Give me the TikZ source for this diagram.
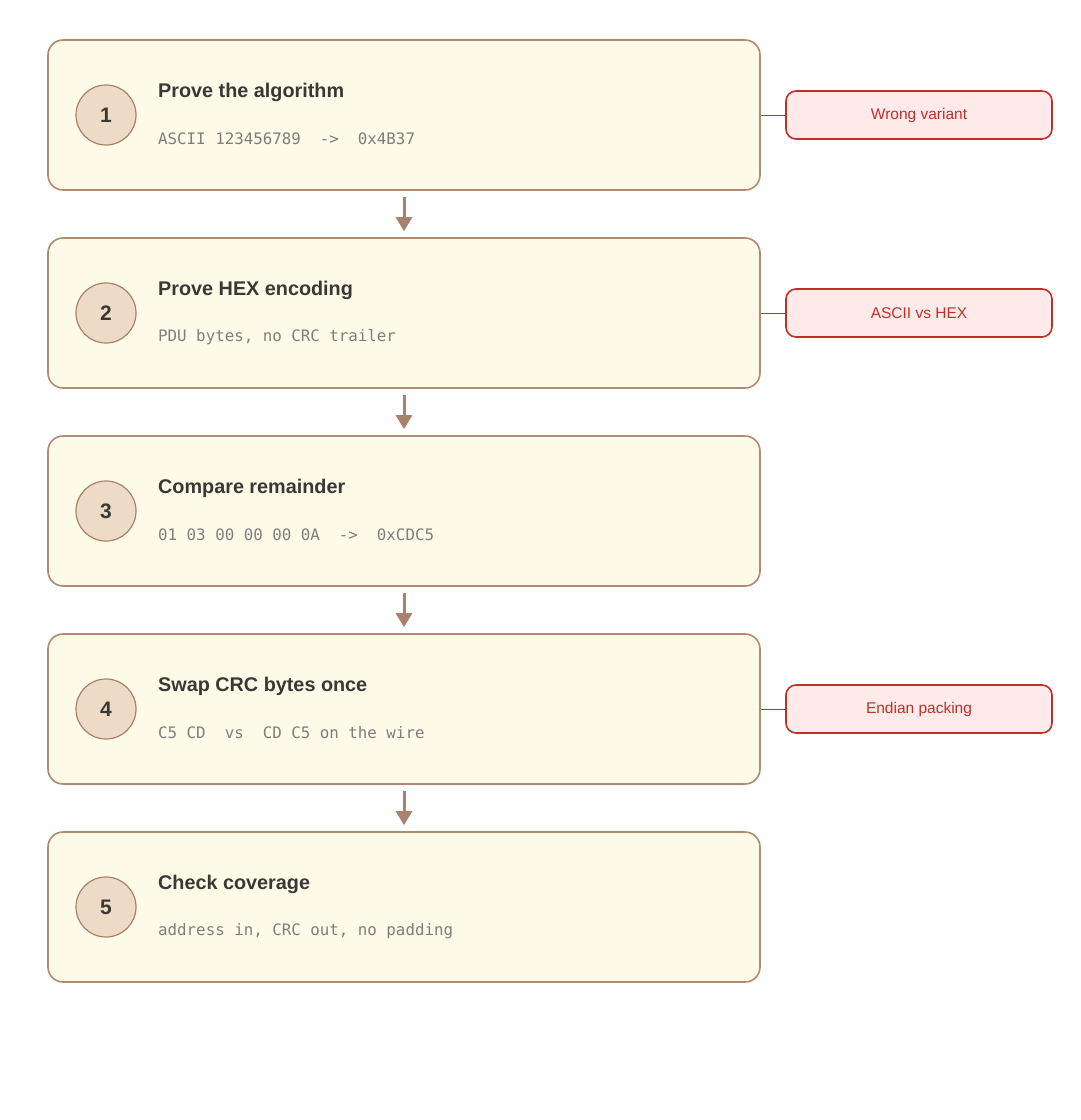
\documentclass[tikz,border=0pt]{standalone}
\usepackage{fontspec}
\setmainfont{Liberation Sans}
\setmonofont{DejaVu Sans Mono}
\usetikzlibrary{arrows.meta}
\definecolor{boxfill}{HTML}{FEFAE8}
\definecolor{boxdraw}{HTML}{B08B72}
\definecolor{circfill}{HTML}{EDDBC5}
\definecolor{circdraw}{HTML}{A8816A}
\definecolor{titlecol}{HTML}{3A3835}
\definecolor{monocol}{HTML}{7E7E7E}
\definecolor{warnfill}{HTML}{FDEAE9}
\definecolor{warndraw}{HTML}{C0302A}
\definecolor{arrowcol}{HTML}{A8826C}
\begin{document}
\begin{tikzpicture}[x=1pt,y=-1pt,
  stepbox/.style={draw=boxdraw,fill=boxfill,line width=1.6pt,rounded corners=15pt,minimum width=712pt,minimum height=150pt,inner sep=0pt},
  numcirc/.style={circle,draw=circdraw,fill=circfill,line width=1.2pt,minimum size=60pt,inner sep=0pt,font=\fontsize{21}{24}\selectfont\bfseries,text=titlecol},
  titletext/.style={anchor=west,font=\fontsize{19.8}{24}\selectfont\bfseries,text=titlecol,inner sep=0pt},
  monotext/.style={anchor=west,font=\fontsize{15.8}{19}\ttfamily,text=monocol,inner sep=0pt},
  warnbox/.style={draw=warndraw,fill=warnfill,line width=1.6pt,rounded corners=10pt,minimum width=266pt,minimum height=48pt,inner sep=0pt,font=\fontsize{15.5}{18}\selectfont,text=warndraw},
  flow/.style={draw=arrowcol,line width=3pt,-{Triangle[width=16pt,length=14pt]}},
  link/.style={draw=warndraw,line width=0.8pt}
]
\useasboundingbox (0,0) rectangle (1080,1120);
\foreach \i/\t/\m [count=\k from 0] in {1/Prove the algorithm/{ASCII 123456789~~->~~0x4B37},
  2/Prove HEX encoding/{PDU bytes, no CRC trailer},
  3/Compare remainder/{01 03 00 00 00 0A~~->~~0xCDC5},
  4/Swap CRC bytes once/{C5 CD~~vs~~CD C5 on the wire},
  5/Check coverage/{address in, CRC out, no padding}}{
  \node[stepbox] (s\i) at (404,{115+198*\k}) {};
  \node[numcirc] (c\i) at (106,{115+198*\k}) {\i};
  \node[titletext] (t\i) at (158,{92+198*\k}) {\t};
  \node[monotext] (m\i) at (158,{139+198*\k}) {\m};
}
\foreach \a/\b in {1/2,2/3,3/4,4/5}{
  \draw[flow] ([yshift=-6pt]s\a.south) -- ([yshift=6pt]s\b.north);
}
\node[warnbox] (w1) at (919,115) {Wrong variant};
\node[warnbox] (w2) at (919,313) {ASCII vs HEX};
\node[warnbox] (w4) at (919,709) {Endian packing};
\draw[link] (s1.east) -- (w1.west);
\draw[link] (s2.east) -- (w2.west);
\draw[link] (s4.east) -- (w4.west);
\end{tikzpicture}
\end{document}
